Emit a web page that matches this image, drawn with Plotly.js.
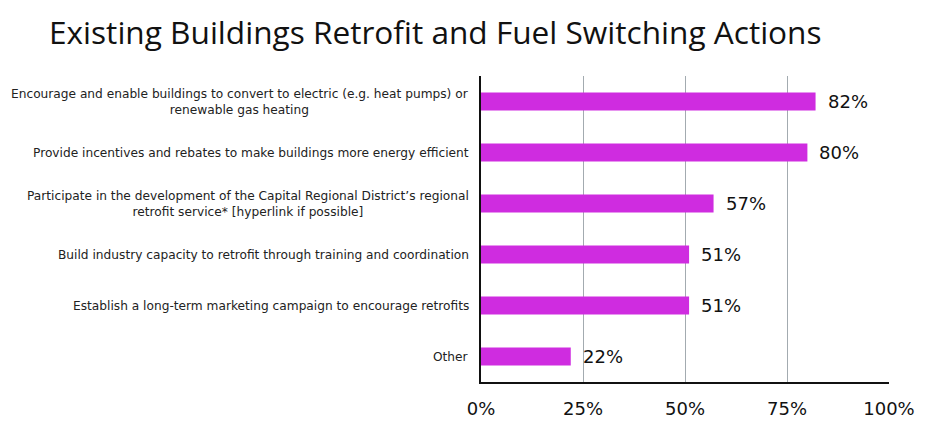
<!DOCTYPE html>
<html>
<head>
<meta charset="utf-8">
<script src="https://cdn.plot.ly/plotly-3.0.1.min.js"></script>
<style>
  html, body { margin: 0; padding: 0; background: #fff; }
  #chart { width: 935px; height: 447px; }
</style>
</head>
<body>
<div id="chart"></div>
<script>
// Survey actions, listed top to bottom
const categories = [
  "Encourage and enable buildings to convert to electric (e.g. heat pumps) or<br>renewable gas heating",
  "Provide incentives and rebates to make buildings more energy efficient",
  "Participate in the development of the Capital Regional District’s regional<br>retrofit service* [hyperlink if possible]",
  "Build industry capacity to retrofit through training and coordination",
  "Establish a long-term marketing campaign to encourage retrofits",
  "Other"
];
// Share of respondents supporting each action (percent)
const values = [82, 80, 57, 51, 51, 22];
const tickValues = [0, 25, 50, 75, 100];
const tickLabels = ["0%", "25%", "50%", "75%", "100%"];

const labelFont = "DejaVu Sans, sans-serif";
const barColor = "#cf2ce0";

const trace = {
  type: "bar",
  orientation: "h",
  x: values,
  y: categories,
  marker: { color: barColor },
  width: 0.35,
  hoverinfo: "none"
};

// Category labels: right-aligned block, lines centred within it
const catAnnotations = categories.map(c => ({
  xref: "paper", yref: "y",
  x: 0, y: c,
  xanchor: "right", yanchor: "middle",
  xshift: -10,
  align: "center",
  text: c,
  showarrow: false,
  font: { family: labelFont, size: 12.2, color: "#222" }
}));

// Value labels just past the end of each bar
const valueAnnotations = values.map((v, i) => ({
  xref: "x", yref: "y",
  x: v, y: categories[i],
  xanchor: "left", yanchor: "middle",
  xshift: 10,
  text: v + "%",
  showarrow: false,
  font: { family: labelFont, size: 18, color: "#111" }
}));

const layout = {
  width: 935,
  height: 447,
  margin: { l: 481, r: 46, t: 76, b: 65 },
  paper_bgcolor: "#fff",
  plot_bgcolor: "#fff",
  showlegend: false,
  title: {
    text: "Existing Buildings Retrofit and Fuel Switching Actions",
    xref: "container", yref: "container",
    x: 49 / 935, xanchor: "left",
    y: 1 - 33 / 447, yanchor: "middle",
    font: { family: "Open Sans, sans-serif", size: 31.6, color: "#111" }
  },
  xaxis: {
    range: [0, 100],
    tickvals: tickValues,
    ticktext: tickLabels,
    showgrid: true,
    gridcolor: "#a3abb0",
    gridwidth: 1,
    zeroline: false,
    showline: true,
    linecolor: "#111",
    linewidth: 2,
    ticks: "",
    ticklabelstandoff: 9,
    tickfont: { family: labelFont, size: 18, color: "#111" },
    fixedrange: true
  },
  yaxis: {
    autorange: "reversed",
    showticklabels: false,
    showgrid: false,
    zeroline: false,
    showline: true,
    linecolor: "#111",
    linewidth: 2,
    ticks: "",
    fixedrange: true
  },
  annotations: catAnnotations.concat(valueAnnotations)
};

Plotly.newPlot("chart", [trace], layout, { displayModeBar: false, staticPlot: true });
</script>
</body>
</html>
